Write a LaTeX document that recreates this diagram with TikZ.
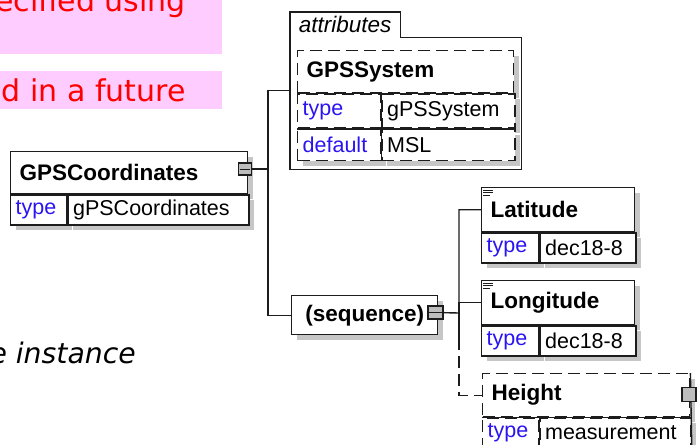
\documentclass[tikz,border=0pt]{standalone}
\usepackage{fontspec}
\setmainfont{Liberation Sans}
\newfontfamily\notefont{DejaVu Sans}
\usepackage{tikz}
\usetikzlibrary{positioning}
\definecolor{ink}{HTML}{1C1C1C}
\definecolor{shade}{HTML}{C6C6C6}
\definecolor{keyblue}{HTML}{2B14F2}
\definecolor{notered}{HTML}{FF0000}
\definecolor{notebg}{HTML}{FFCCFF}
\definecolor{sqgray}{HTML}{BDBDBD}
\tikzset{
  shadowed/.style={preaction={fill=shade,transform canvas={shift={(5pt,-5pt)}}}},
  cell/.style={draw=ink,fill=white,line width=1.4pt,shadowed,anchor=north west,
               inner xsep=5pt,inner ysep=0pt,align=left,
               font=\fontsize{21.5}{24}\selectfont},
  titlecell/.style={cell,inner xsep=9pt,font=\fontsize{22.5}{26}\selectfont\bfseries},
  keycell/.style={cell,text=keyblue},
  optional/.style={dash pattern=on 12pt off 6pt},
  plusbox/.style={draw=ink,fill=sqgray,line width=1.2pt,
                  minimum width=13pt,minimum height=12pt,inner sep=0pt},
  link/.style={draw=ink,line width=1.4pt},
  notebox/.style={fill=notebg,anchor=north west,inner sep=0pt},
  note/.style={font=\notefont\fontsize{30}{36}\selectfont,inner sep=0pt,anchor=base east}
}

\begin{document}
\begin{tikzpicture}[x=1pt,y=-1pt]
  \useasboundingbox (0,0) rectangle (697,445);

  % notes cut off at the left
  \node[notebox,minimum width=222pt,minimum height=54pt] (notea) at (0,0) {};
  \node[notebox,minimum width=222pt,minimum height=38pt] (noteb) at (0,71) {};
  \node[note,text=notered] (notetxta) at (186,11) {ecified using};
  \node[note,text=notered] (notetxtb) at (186,101) {d in a future};
  \node[note,font=\notefont\itshape\fontsize{28.3}{34}\selectfont] (notetxtc) at (136,363) {e instance};

  % GPSCoordinates
  \node[titlecell,text width=219pt,minimum height=42pt] (gpsc) at (10,151) {GPSCoordinates};
  \node[keycell,text width=46pt,minimum height=30pt] (gpsckey) at (gpsc.south west) {type};
  \node[cell,text width=171pt,minimum height=30pt] (gpscval) at (gpsckey.north east) {gPSCoordinates};
  \node[plusbox] (gpscsq) at (245,169) {};
  \draw[ink,line width=1pt] ([xshift=2pt]gpscsq.west) -- ([xshift=-2pt]gpscsq.east);

  % attributes
  \node[minimum width=231pt,minimum height=157pt,inner sep=0pt,anchor=north west] (attr) at (290,12) {};
  \node[anchor=north west,minimum width=110pt,minimum height=25pt,inner sep=0pt,
        font=\fontsize{22.5}{26}\selectfont\itshape] (attrtab) at (290,12) {attributes};
  \draw[link] (attr.south west) -- (attr.north west) -| (attrtab.south east) -| (attr.south east) -- cycle;

  \node[titlecell,optional,text width=198pt,minimum height=42pt] (sys) at (297,50) {GPSSystem};
  \node[keycell,optional,text width=73pt,minimum height=34pt] (systype) at (sys.south west) {type};
  \node[cell,optional,text width=123pt,minimum height=34pt] (sysval) at (systype.north east) {gPSSystem};
  \node[keycell,optional,text width=73pt,minimum height=31pt] (sysdef) at (systype.south west) {default};
  \node[cell,optional,text width=123pt,minimum height=31pt] (sysdefval) at (sysdef.north east) {MSL};
  \draw[link] (sys.south west) -- (sys.south east);
  \draw[link] (systype.south west) -- (sysval.south east);
  \draw[link] (systype.north east) -- (sysdef.south east);

  % sequence
  \node[titlecell,text width=128pt,minimum height=39pt,align=center] (seq) at (291,295) {(sequence)};
  \node[plusbox,minimum width=15pt,minimum height=13pt] (seqsq) at (435.5,312.5) {};
  \draw[ink,line width=1pt] ([xshift=2pt]seqsq.west) -- ([xshift=-2pt]seqsq.east);

  \coordinate (trunk) at (268,169);
  \draw[link] (gpscsq) -- (trunk) |- (attr.west);
  \draw[link] (trunk) |- (seq.west);

  % children
  \node[titlecell,text width=135pt,minimum height=44pt] (lat) at (481,187) {Latitude};
  \node[keycell,text width=47pt,minimum height=30pt] (lattype) at (lat.south west) {type};
  \node[cell,text width=86pt,minimum height=30pt] (latval) at (lattype.north east) {dec18-8};

  \node[titlecell,text width=135pt,minimum height=44pt] (lon) at (481,280) {Longitude};
  \node[keycell,text width=47pt,minimum height=30pt] (lontype) at (lon.south west) {type};
  \node[cell,text width=86pt,minimum height=30pt] (lonval) at (lontype.north east) {dec18-8};

  \node[titlecell,optional,text width=189pt,minimum height=43pt] (hgt) at (482,373) {Height};
  \node[keycell,optional,text width=46pt,minimum height=30pt] (hgttype) at (hgt.south west) {type};
  \node[cell,optional,text width=141pt,minimum height=30pt] (hgtval) at (hgttype.north east) {measurement};
  \draw[link] (hgt.south west) -- (hgtval.north east);
  \draw[link] (hgttype.north east) -- (hgttype.south east);
  \draw[link] (hgt.north east) -- (hgtval.south east);
  \node[plusbox,minimum width=14pt,minimum height=14pt] (hgtsq) at (689,394.5) {};

  \foreach \el in {lat,lon}
    \foreach \dy/\len in {3pt/10pt,5.5pt/10pt,8pt/7pt}
      \draw[ink,line width=0.8pt] ([shift={(2pt,-\dy)}]\el.north west) -- ++(\len,0pt);

  \coordinate (fork) at (459,313);
  \coordinate (forkend) at (459,338);
  \draw[link] (seqsq) -- (fork) |- (lat.west);
  \draw[link] (fork) |- (lon.west);
  \draw[link] (fork) -- (forkend);
  \draw[link,optional] (forkend) |- (hgt.west);
\end{tikzpicture}
\end{document}
